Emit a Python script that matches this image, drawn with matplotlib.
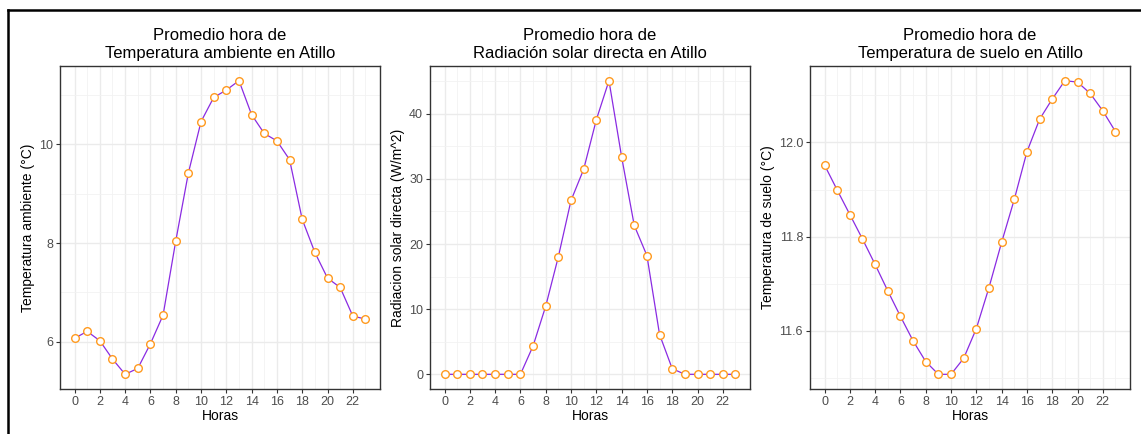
import matplotlib.pyplot as plt
from matplotlib.ticker import MultipleLocator
from matplotlib.lines import Line2D

plt.rcParams['font.family'] = ['Liberation Sans', 'DejaVu Sans']

horas = list(range(24))

temp_ambiente = [6.07, 6.21, 6.02, 5.65, 5.34, 5.46, 5.96, 6.54, 8.04, 9.42,
                 10.46, 10.95, 11.10, 11.29, 10.60, 10.22, 10.07, 9.69, 8.48,
                 7.81, 7.29, 7.10, 6.52, 6.46]

radiacion = [0, 0, 0, 0, 0, 0, 0, 4.36, 10.47, 18.07, 26.70, 31.48, 39.08,
             45.08, 33.38, 22.85, 18.23, 6.11, 0.87, 0, 0, 0, 0, 0]

temp_suelo = [11.952, 11.899, 11.847, 11.795, 11.741, 11.685, 11.631, 11.579,
              11.535, 11.508, 11.508, 11.542, 11.605, 11.692, 11.788, 11.879,
              11.980, 12.049, 12.092, 12.131, 12.128, 12.104, 12.067, 12.023]

titulos = ["Promedio hora de\nTemperatura ambiente en Atillo",
           "Promedio hora de\nRadiación solar directa en Atillo",
           "Promedio hora de\nTemperatura de suelo en Atillo"]
ylabels = ["Temperatura ambiente (°C)",
           "Radiacion solar directa (W/m^2)",
           "Temperatura de suelo (°C)"]
series = [temp_ambiente, radiacion, temp_suelo]
y_major = [2, 10, 0.2]
y_fmt = ["{:.0f}", "{:.0f}", "{:.1f}"]
x_ticks = list(range(0, 24, 2))

W, H = 1141, 434
fig = plt.figure(figsize=(W / 100, H / 100), dpi=100)
fig.patch.set_facecolor('white')

lefts = [60, 430, 810]
for i in range(3):
    ax = fig.add_axes([lefts[i] / W, 45 / H, 320 / W, 323 / H])
    ax.plot(horas, series[i], color='#8A2BE2', lw=0.9, zorder=3)
    ax.plot(horas, series[i], 'o', ms=5.5, mfc='white', mec='#FF9A1F',
            mew=1.0, zorder=4, ls='none')
    ax.margins(x=0.05, y=0.05)
    ax.set_xticks(x_ticks)
    ax.set_xticks(horas, minor=True)
    ax.yaxis.set_major_locator(MultipleLocator(y_major[i]))
    ax.yaxis.set_minor_locator(MultipleLocator(y_major[i] / 2))
    ax.yaxis.set_major_formatter(plt.FuncFormatter(lambda v, p, f=y_fmt[i]: f.format(v)))
    ax.grid(which='major', color='#EBEBEB', lw=1.0)
    ax.grid(which='minor', color='#F2F2F2', lw=0.6)
    ax.set_axisbelow(True)
    ax.tick_params(which='major', length=3, width=0.8, color='#333333',
                   labelsize=9, labelcolor='#4D4D4D', pad=2)
    ax.tick_params(which='minor', length=0)
    for s in ax.spines.values():
        s.set_color('#333333')
        s.set_linewidth(1.0)
    ax.set_title(titulos[i], fontsize=12, pad=6, color='black')
    ax.set_xlabel("Horas", fontsize=10, labelpad=1)
    ax.set_ylabel(ylabels[i], fontsize=10, labelpad=3)

# marco superior e izquierdo
fig.add_artist(Line2D([8 / W, 1], [1 - 10 / H, 1 - 10 / H], color='black', lw=1.8))
fig.add_artist(Line2D([8 / W, 8 / W], [0, 1 - 10 / H], color='black', lw=1.8))

fig.savefig('out.png', dpi=100)
